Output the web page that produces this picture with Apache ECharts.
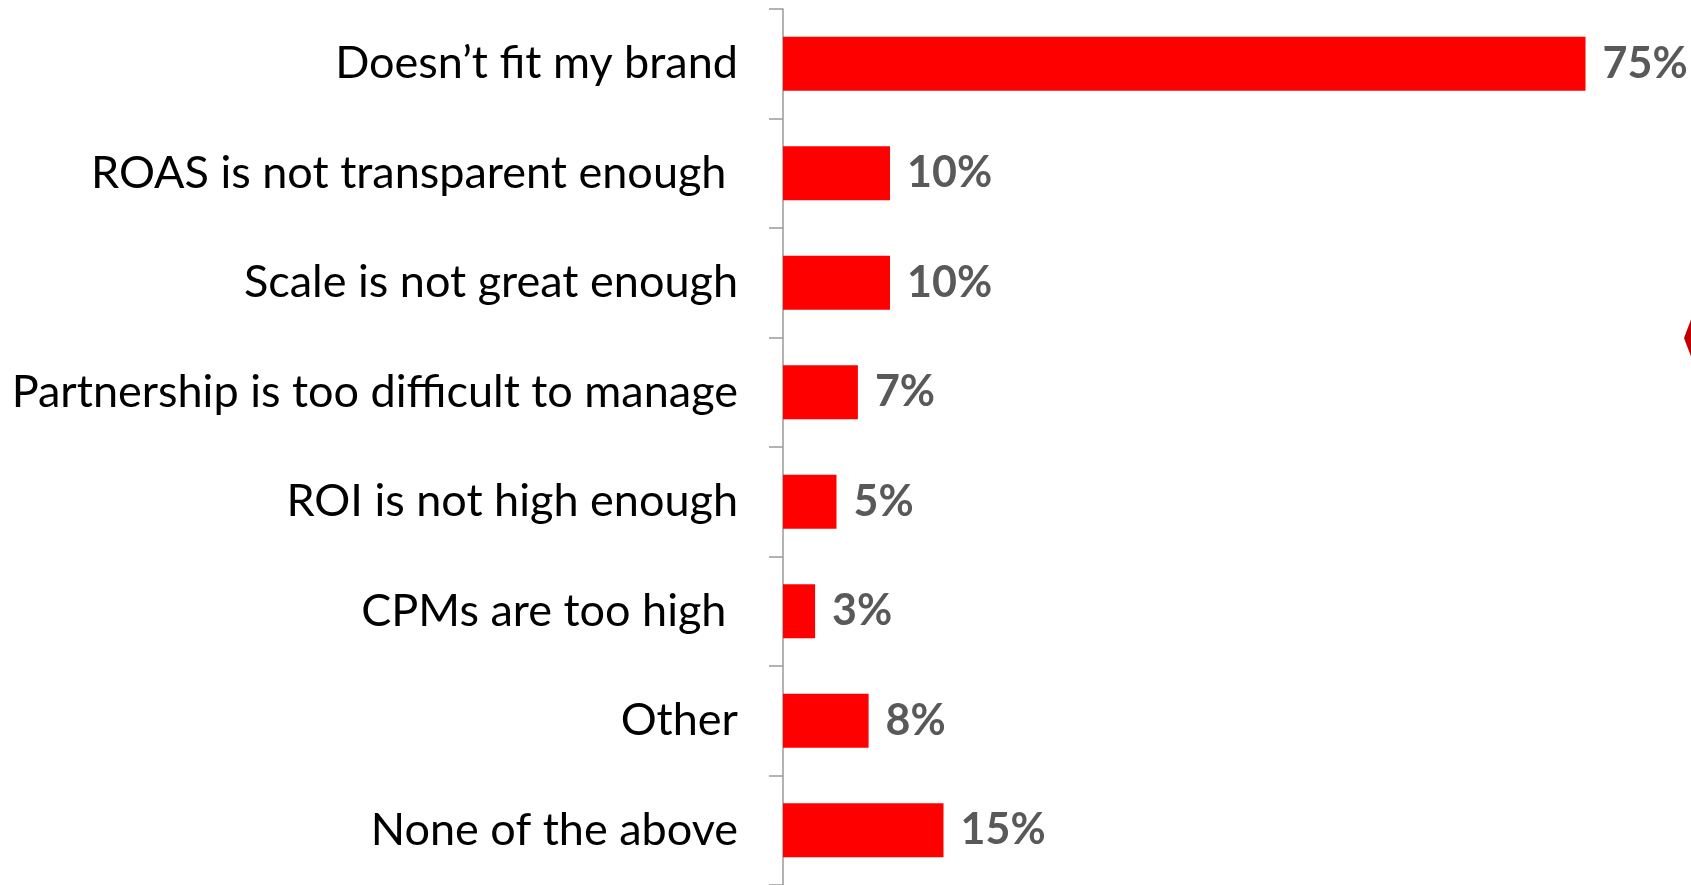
<!DOCTYPE html>
<html>
<head>
<meta charset="utf-8">
<script src="https://cdn.jsdelivr.net/npm/echarts@6/dist/echarts.min.js"></script>
<style>
  html, body { margin: 0; padding: 0; background: #ffffff; }
  #chart { width: 1691px; height: 885px; }
</style>
</head>
<body>
<div id="chart"></div>
<script>
// Reasons for not partnering (share of respondents, %)
const categories = [
  "Doesn\u2019t fit my brand",
  "ROAS is not transparent enough ",
  "Scale is not great enough",
  "Partnership is too difficult to manage",
  "ROI is not high enough",
  "CPMs are too high ",
  "Other",
  "None of the above"
];
const values = [75, 10, 10, 7, 5, 3, 8, 15];

const chart = echarts.init(document.getElementById('chart'), null, { renderer: 'canvas' });

chart.setOption({
  animation: false,
  backgroundColor: '#ffffff',
  grid: { left: 783, top: 9, width: 856, height: 880, containLabel: false },
  xAxis: {
    type: 'value',
    min: 0,
    max: 80,
    show: false
  },
  yAxis: {
    type: 'category',
    data: categories,
    inverse: true,
    axisLine: { show: true, lineStyle: { color: '#9a9a9a', width: 1.5 } },
    axisTick: { show: true, length: 14, inside: false, lineStyle: { color: '#9a9a9a', width: 1.5 } },
    axisLabel: {
      margin: 45,
      color: '#000000',
      fontFamily: 'Lato',
      fontSize: 45
    },
    splitLine: { show: false }
  },
  series: [{
    type: 'bar',
    data: values,
    barWidth: 54,
    itemStyle: { color: '#ff0000' },
    label: {
      show: true,
      position: 'right',
      distance: 17,
      formatter: '{c}%',
      color: '#595959',
      fontFamily: 'Lato',
      fontWeight: 'bold',
      fontSize: 43
    }
  }],
  graphic: [{
    type: 'polygon',
    shape: { points: [[1684, 338], [1698, 301], [1712, 338], [1698, 375]] },
    style: { fill: '#c00000' }
  }]
});
</script>
</body>
</html>
